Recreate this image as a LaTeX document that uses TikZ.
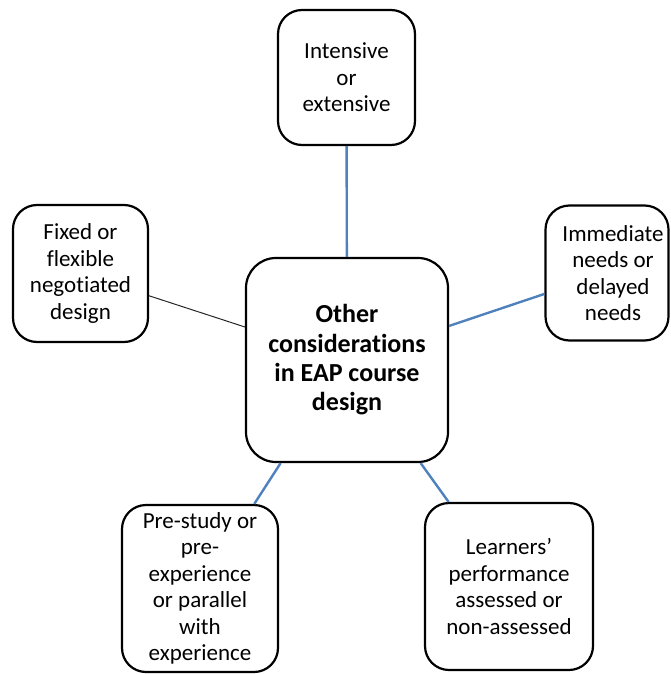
\documentclass[tikz,border=0pt]{standalone}
\usepackage{fontspec}
\setmainfont[Ligatures={NoCommon}]{Carlito}
\definecolor{linkblue}{HTML}{4F81BD}
\tikzset{
  x=1pt, y=-1pt,
  boxstyle/.style={draw=black, line width=2.2pt, rounded corners=24pt, fill=white,
    align=center, inner sep=0pt, font=\fontsize{23}{26.5}\selectfont},
  centerbox/.style={boxstyle, rounded corners=30pt, font=\fontsize{26}{29.3}\selectfont\bfseries},
  txtstyle/.style={align=center, inner sep=0pt, font=\fontsize{23}{26.5}\selectfont},
  bluelink/.style={draw=linkblue, line width=2.4pt},
  blacklink/.style={draw=black!85, line width=1pt}
}
\begin{document}
\begin{tikzpicture}
\useasboundingbox (0,0) rectangle (670,674);
% nodes
\node[centerbox, minimum width=202pt, minimum height=204pt] (c) at (347,360)
  {Other\\considerations\\in EAP course\\design};
\node[boxstyle, minimum width=137pt, minimum height=135pt] (t) at (346.5,77.5)
  {Intensive\\or\\extensive};
\node[boxstyle, minimum width=135pt, minimum height=137pt] (l) at (80.5,273.5)
  {Fixed or\\flexible\\negotiated\\design};
\node[boxstyle, minimum width=123pt, minimum height=135pt] (r) at (607,273) {};
\node[txtstyle] (rt) at (613,273) {Immediate\\needs or\\delayed\\needs};
\node[boxstyle, minimum width=156pt, minimum height=167pt] (bl) at (200,588.5)
  {Pre-study or\\pre-\\experience\\or parallel\\with\\experience};
\node[boxstyle, minimum width=168pt, minimum height=167pt] (br) at (509,586.5)
  {Learners’\\performance\\assessed or\\non-assessed};
% connectors
\draw[bluelink] (t) -- (c);
\draw[blacklink] (l) -- (c);
\draw[bluelink] (c) -- (r);
\draw[bluelink] (c) -- (bl);
\draw[bluelink] (c) -- (br);
\end{tikzpicture}
\end{document}
